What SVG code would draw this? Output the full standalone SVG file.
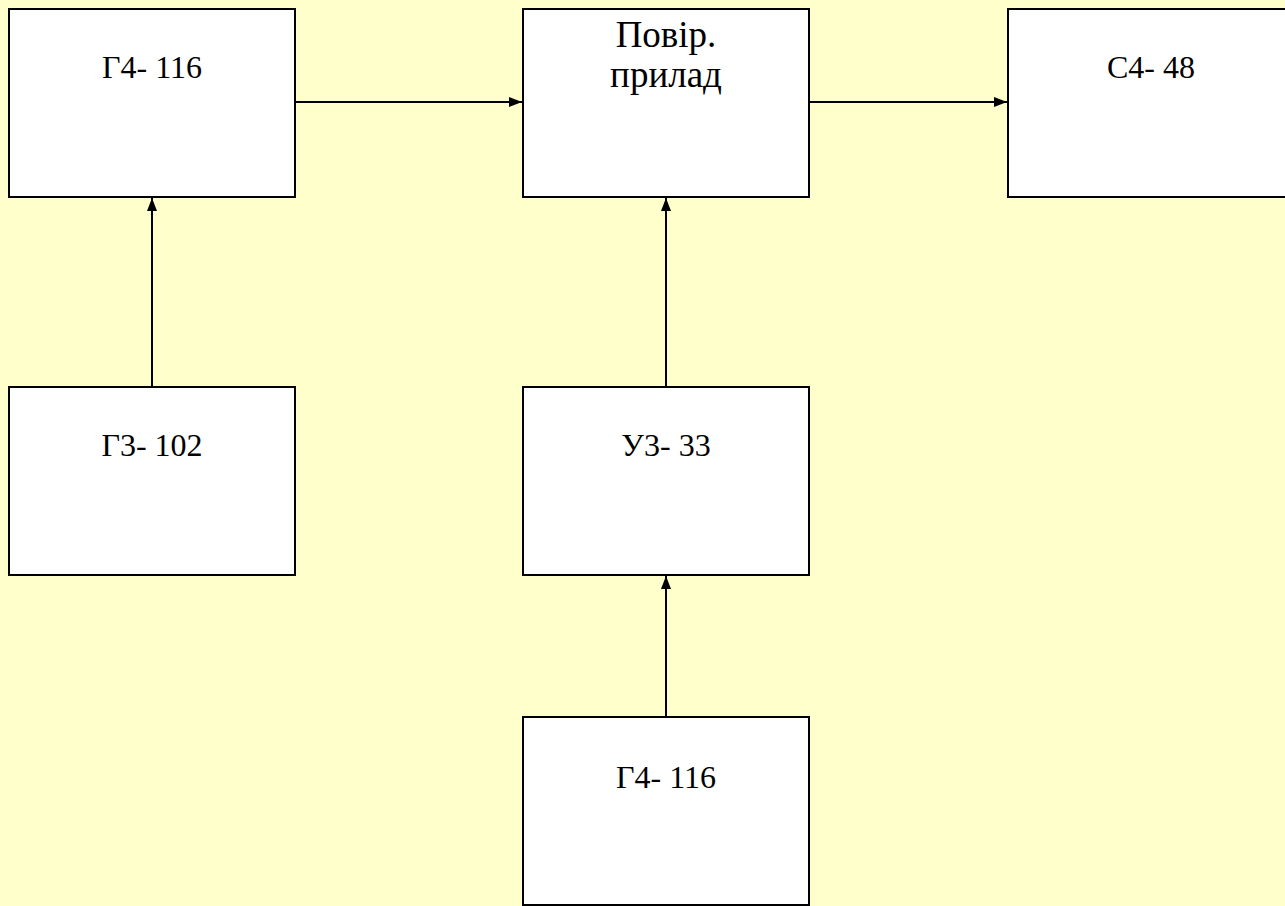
<svg xmlns="http://www.w3.org/2000/svg" width="1285" height="906" viewBox="0 0 1285 906">
<style>
.box{fill:#ffffff;stroke:#000000;stroke-width:2}
.lbl{font-family:'Liberation Serif','Times New Roman','DejaVu Serif',serif;font-size:32px;fill:#000000;text-anchor:middle}
.big{font-size:37px}
.conn{stroke:#000000;stroke-width:2;fill:none;marker-end:url(#arr)}
</style>
<defs>
<marker id="arr" markerWidth="13" markerHeight="10" refX="13" refY="5" orient="auto" markerUnits="userSpaceOnUse">
<path d="M0,0 L13,5 L0,10 Z" fill="#000000"/>
</marker>
</defs>
<rect x="0" y="0" width="1285" height="906" fill="#ffffcc"/>
<g id="connectors">
<line class="conn" x1="295" y1="102" x2="522" y2="102"/>
<line class="conn" x1="809" y1="102" x2="1007" y2="102"/>
<line class="conn" x1="152" y1="387" x2="152" y2="198"/>
<line class="conn" x1="666" y1="387" x2="666" y2="198"/>
<line class="conn" x1="666" y1="717" x2="666" y2="576"/>
</g>
<g id="n1"><rect class="box" x="9" y="9" width="286" height="188"/><text class="lbl" x="152" y="78">Г4- 116</text></g>
<g id="n2"><rect class="box" x="523" y="9" width="286" height="188"/><text class="lbl big" x="666" y="47">Повір.</text><text class="lbl big" x="666" y="87">прилад</text></g>
<g id="n3"><rect class="box" x="1008" y="9" width="286" height="188"/><text class="lbl" x="1151" y="78">С4- 48</text></g>
<g id="n4"><rect class="box" x="9" y="387" width="286" height="188"/><text class="lbl" x="152" y="456">Г3- 102</text></g>
<g id="n5"><rect class="box" x="523" y="387" width="286" height="188"/><text class="lbl" x="666" y="456">У3- 33</text></g>
<g id="n6"><rect class="box" x="523" y="717" width="286" height="188"/><text class="lbl" x="666" y="788">Г4- 116</text></g>
</svg>
